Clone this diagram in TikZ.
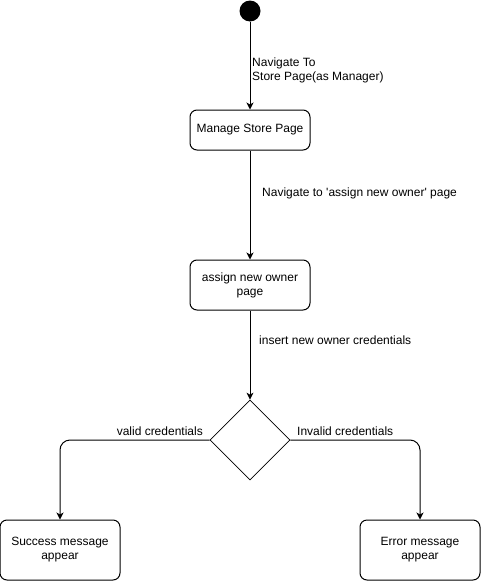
\documentclass[tikz,border=0pt]{standalone}
\usepackage{fontspec}
\setmainfont{Liberation Sans}
\usepackage{textcomp}
\usetikzlibrary{arrows.meta,shapes.geometric}
\begin{document}
\begin{tikzpicture}[x=1pt,y=-1pt,
  every node/.style={font=\fontsize{12}{14}\selectfont},
  state/.style={draw,line width=1pt,rounded corners=7pt,minimum width=120pt,align=center,inner sep=0pt},
  decide/.style={draw,line width=0.7pt,diamond,minimum width=80pt,minimum height=80pt,inner sep=0pt,aspect=1},
  conn/.style={line width=1pt,-{Stealth[length=7pt,width=7pt,inset=2pt]}},
  lbl/.style={inner sep=0pt,align=left}]
\useasboundingbox (0,0) rectangle (481,581);
\node[circle,fill=black,minimum size=21pt,inner sep=0pt] (start) at (250,11) {};
\node[state,minimum height=40pt] (manage) at (250,130) {Manage Store Page};
\node[state,minimum height=50pt] (assign) at (250,285) {assign new owner\\page};
\node[decide] (dec) at (250,440) {};
\node[state,minimum height=60pt] (succ) at (60,550) {Success message\\appear};
\node[state,minimum height=60pt] (err) at (420,550) {Error message\\appear};
\draw[conn] (start) -- (manage);
\draw[conn] (manage) -- (assign);
\draw[conn] (assign) -- (dec);
\draw[conn,rounded corners=10pt] (dec.west) -- (60,440) -- (succ.north);
\draw[conn,rounded corners=10pt] (dec.east) -- (420,440) -- (err.north);
\node[lbl,anchor=west] (l1) at (252,70) {Navigate To\\Store Page(as Manager)};
\node[lbl,anchor=west] (l2) at (262,193) {Navigate to \textquotesingle assign new owner\textquotesingle{} page};
\node[lbl,anchor=west] (l3) at (259,340) {insert new owner credentials};
\node[lbl,anchor=east] (l4) at (203,431) {valid credentials};
\node[lbl,anchor=west] (l5) at (297,431) {Invalid credentials};
\end{tikzpicture}
\end{document}
